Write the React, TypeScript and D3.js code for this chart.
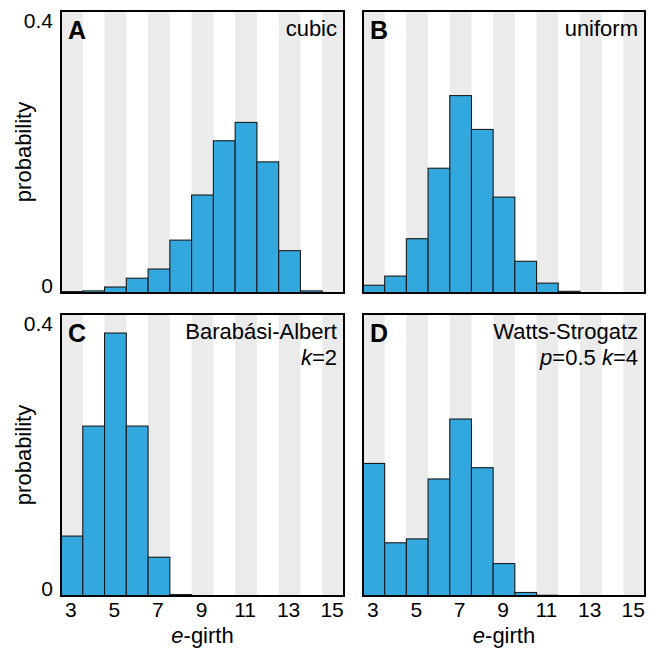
import React from 'react';
import * as d3 from 'd3';

// e-girth bins and probabilities per graph family
const bins = [3, 4, 5, 6, 7, 8, 9, 10, 11, 12, 13, 14, 15];
const cubic = [0.002, 0.003, 0.0085, 0.021, 0.034, 0.075, 0.139, 0.216, 0.242, 0.186, 0.06, 0.003, 0];
const uniform = [0.011, 0.024, 0.077, 0.177, 0.28, 0.232, 0.136, 0.045, 0.014, 0.0024, 0.0004, 0, 0];
const barabasi = [0.085, 0.241, 0.373, 0.241, 0.055, 0.002, 0, 0, 0, 0, 0, 0, 0];
const watts = [0.188, 0.0755, 0.081, 0.166, 0.251, 0.182, 0.046, 0.005, 0.001, 0, 0, 0, 0];
const xTicks = [3, 5, 7, 9, 11, 13, 15];
const yTicks = [0, 0.4];

const FONT = '"Liberation Sans", Arial, Helvetica, sans-serif';
const BAR = '#33a8df';
const STRIPE = '#ebebeb';

type PanelProps = {
  letter: string;
  values: number[];
  x0: number;
  y0: number;
  w: number;
  h: number;
  title: React.ReactNode;
  sub?: React.ReactNode;
  showY: boolean;
  showX: boolean;
};

function Panel({ letter, values, x0, y0, w, h, title, sub, showY, showX }: PanelProps) {
  const x = d3.scaleLinear().domain([2.5, 15.5]).range([x0, x0 + w]);
  const y = d3.scaleLinear().domain([0, 0.4]).range([y0 + h, y0]);
  const bw = x(1) - x(0);

  return (
    <g>
      {/* alternating stripes on odd values */}
      {bins.filter(b => b % 2 === 1).map(b => (
        <rect key={'s' + b} x={x(b - 0.5)} y={y0} width={bw} height={h} fill={STRIPE} />
      ))}
      {values.map((v, i) => (
        v > 0 ? (
          <rect key={'b' + i} x={x(bins[i] - 0.5)} y={y(v)} width={bw} height={y(0) - y(v)}
            fill={BAR} stroke="#1a1a1a" strokeWidth={1.1} />
        ) : null
      ))}
      <rect x={x0} y={y0} width={w} height={h} fill="none" stroke="#000" strokeWidth={2} />

      <text x={x0 + 7} y={y0 + 28} fontFamily={FONT} fontWeight="bold" fontSize={25}>{letter}</text>
      <text x={x0 + w - 7} y={y0 + 25} textAnchor="end" fontFamily={FONT} fontSize={22}>{title}</text>
      {sub && <text x={x0 + w - 7} y={y0 + 51} textAnchor="end" fontFamily={FONT} fontSize={22}>{sub}</text>}

      {showY && (
        <g fontFamily={FONT} fontSize={21} textAnchor="end">
          <text x={x0 - 8} y={y(yTicks[1]) + 17}>0.4</text>
          <text x={x0 - 8} y={y(yTicks[0])}>0</text>
          <text transform={`translate(31,${y0 + h / 2}) rotate(-90)`} textAnchor="middle" fontSize={22}>probability</text>
        </g>
      )}
      {showX && (
        <g fontFamily={FONT} fontSize={21} textAnchor="middle">
          {xTicks.map(t => (
            <text key={t} x={x(t) - 1} y={y0 + h + 21}>{t}</text>
          ))}
          <text x={x0 + w / 2} y={y0 + h + 47} fontSize={22}>
            <tspan fontStyle="italic">e</tspan>-girth
          </text>
        </g>
      )}
    </g>
  );
}

export default function App() {
  const w = 283;
  const h = 282;
  return (
    <svg width={650} height={654} style={{ position: 'absolute', left: 0, top: 0, background: '#fff' }}>
      <Panel letter="A" values={cubic} x0={61} y0={11} w={w} h={h} title="cubic" showY showX={false} />
      <Panel letter="B" values={uniform} x0={363} y0={11} w={w - 1} h={h} title="uniform" showY={false} showX={false} />
      <Panel letter="C" values={barabasi} x0={61} y0={314} w={w} h={h}
        title="Barabási-Albert" sub={<><tspan fontStyle="italic">k</tspan>=2</>} showY showX />
      <Panel letter="D" values={watts} x0={363} y0={314} w={w - 1} h={h}
        title="Watts-Strogatz"
        sub={<><tspan fontStyle="italic">p</tspan>=0.5 <tspan fontStyle="italic">k</tspan>=4</>}
        showY={false} showX />
    </svg>
  );
}
